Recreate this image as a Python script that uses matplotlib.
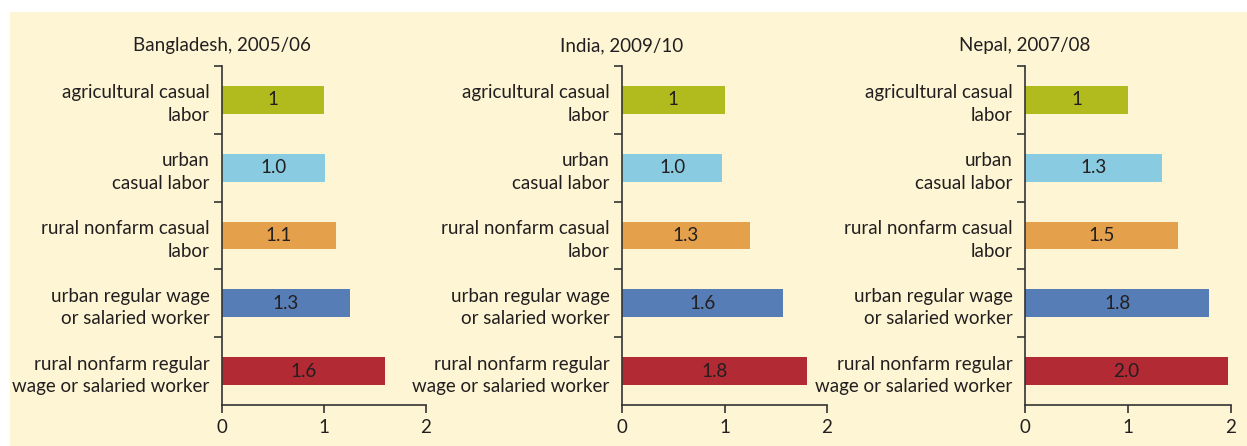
import numpy as np
import matplotlib.pyplot as plt
from matplotlib.patches import Rectangle

# categories, top to bottom
categories = ["agricultural casual\nlabor",
              "urban\ncasual labor",
              "rural nonfarm casual\nlabor",
              "urban regular wage\nor salaried worker",
              "rural nonfarm regular\nwage or salaried worker"]

titles = ["Bangladesh, 2005/06", "India, 2009/10", "Nepal, 2007/08"]

bangladesh = [1.0, 1.01, 1.12, 1.25, 1.60]
india = [1.0, 0.98, 1.25, 1.57, 1.80]
nepal = [1.0, 1.33, 1.49, 1.79, 1.97]

bangladesh_lbl = ["1", "1.0", "1.1", "1.3", "1.6"]
india_lbl = ["1", "1.0", "1.3", "1.6", "1.8"]
nepal_lbl = ["1", "1.3", "1.5", "1.8", "2.0"]

colors = ["#B2BB1E", "#89CBE0", "#E5A04C", "#567DB5", "#B22A33"]
bg = "#FDF5D3"
ink = "#231F20"

plt.rcParams['font.family'] = ['Lato', 'DejaVu Sans']
plt.rcParams['font.size'] = 13

W, H = 1247, 446
fig = plt.figure(figsize=(W / 100, H / 100), dpi=100)
fig.patch.set_facecolor("white")
fig.patches.append(Rectangle((10 / W, 0), 1 - 10 / W, 1 - 12 / H,
                             transform=fig.transFigure, facecolor=bg,
                             edgecolor="none", zorder=-10))

lefts = [222, 622, 1025]
widths = [204, 205, 206]
top, bottom = 66, 405

data = [bangladesh, india, nepal]
lbls = [bangladesh_lbl, india_lbl, nepal_lbl]

for i in range(3):
    ax = fig.add_axes([lefts[i] / W, 1 - bottom / H, widths[i] / W, (bottom - top) / H])
    ax.set_facecolor("none")
    y = np.arange(len(categories))
    ax.barh(y, data[i], height=0.41, color=colors, zorder=2)
    for yy, v, t in zip(y, data[i], lbls[i]):
        ax.text(v / 2, yy, t, ha="center", va="center", color=ink, fontsize=13.5)
    ax.set_xlim(0, 2)
    ax.set_ylim(len(categories) - 0.5, -0.5)
    ax.set_xticks([0, 1, 2])
    ax.set_yticks(y)
    ax.set_yticklabels(categories, color=ink, linespacing=1.4, fontsize=13.5)
    ax.set_yticks(np.arange(len(categories)) - 0.5, minor=True)
    ax.tick_params(axis="y", which="major", length=0, pad=9)
    ax.tick_params(axis="y", which="minor", length=6, direction="out",
                   width=1.2, color="#333333")
    ax.tick_params(axis="x", length=6, width=1.2, color="#333333",
                   labelcolor=ink, labelsize=13.5, pad=4)
    for s in ["top", "right"]:
        ax.spines[s].set_visible(False)
    for s in ["left", "bottom"]:
        ax.spines[s].set_color("#333333")
        ax.spines[s].set_linewidth(1.2)
    ax.text(0, 1.035, titles[i], transform=ax.transAxes, ha="center",
            va="bottom", color=ink, fontsize=13.5)

fig.savefig("out.png", dpi=100, facecolor=fig.get_facecolor())
